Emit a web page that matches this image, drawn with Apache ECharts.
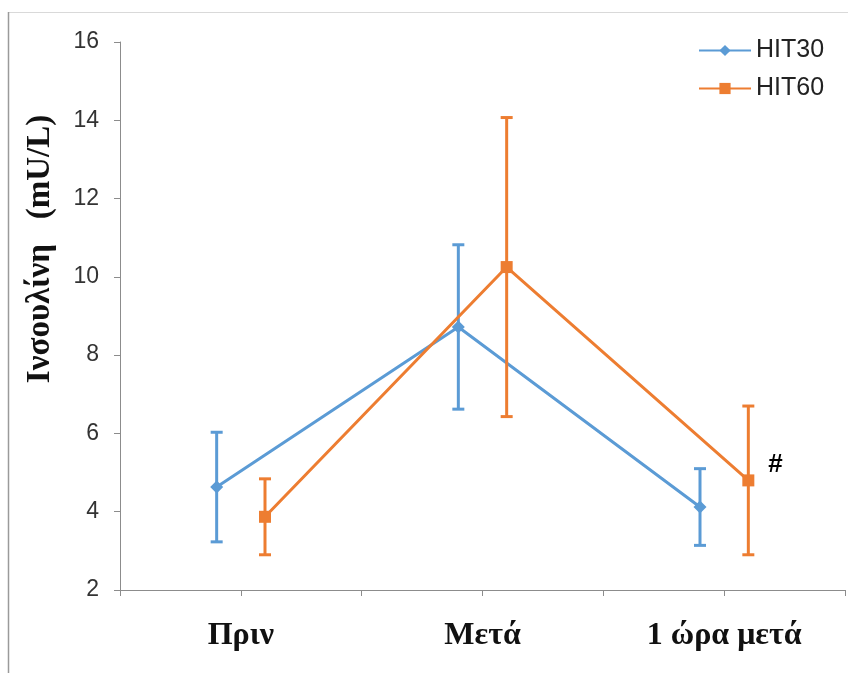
<!DOCTYPE html>
<html>
<head>
<meta charset="utf-8">
<script src="https://cdn.jsdelivr.net/npm/echarts@6/dist/echarts.min.js"></script>
<style>html,body{margin:0;padding:0;background:#fff;}#c{width:848px;height:673px;}</style>
</head>
<body>
<div id="c"></div>
<script>
const categories = ['Πριν', 'Μετά', '1 ώρα μετά'];
const hit30Mean = [4.63, 8.72, 4.12];
const hit30Err  = [1.40, 2.10, 0.98];
const hit60Mean = [3.87, 10.25, 4.80];
const hit60Err  = [0.97, 3.82, 1.90];
const hit60Notes = ['', '', '#'];
const yTicks = [2, 4, 6, 8, 10, 12, 14, 16];

const BLUE = '#5B9BD5', ORANGE = '#ED7D31';
const OFF30 = -0.1, OFF60 = 0.1;

function pts(mean, off, notes) {
  return mean.map((v, i) => {
    const d = { value: [i + 0.5 + off, v] };
    if (notes && notes[i]) {
      d.label = { show: true, formatter: notes[i], position: 'right', distance: 14, offset: [0, -16],
        color: '#000', fontSize: 26, fontWeight: 'bold', fontFamily: 'Liberation Sans' };
    }
    return d;
  });
}
function errData(mean, err, off) {
  return mean.map((v, i) => [i + 0.5 + off, v - err[i], v + err[i]]);
}
function errSeries(name, mean, err, off, color) {
  return {
    type: 'custom', name: name, z: 3,
    data: errData(mean, err, off),
    encode: { x: 0, y: [1, 2] },
    renderItem: function (params, api) {
      const x = api.value(0);
      const lo = api.coord([x, api.value(1)]);
      const hi = api.coord([x, api.value(2)]);
      const w = 6;
      const st = { stroke: color, lineWidth: 3 };
      return { type: 'group', children: [
        { type: 'line', shape: { x1: lo[0], y1: lo[1], x2: hi[0], y2: hi[1] }, style: st },
        { type: 'line', shape: { x1: lo[0] - w, y1: lo[1], x2: lo[0] + w, y2: lo[1] }, style: st },
        { type: 'line', shape: { x1: hi[0] - w, y1: hi[1], x2: hi[0] + w, y2: hi[1] }, style: st }
      ]};
    },
    tooltip: { show: false }
  };
}

const chart = echarts.init(document.getElementById('c'));
chart.setOption({
  animation: false,
  backgroundColor: '#fff',
  grid: { left: 120, right: 3, top: 42, bottom: 83, containLabel: false },
  legend: {
    orient: 'vertical', left: 693, top: 33, itemGap: 13,
    itemWidth: 52, itemHeight: 14,
    textStyle: { fontFamily: 'Liberation Sans', fontSize: 25, color: '#222' },
    data: ['HIT30', 'HIT60']
  },
  xAxis: {
    type: 'value', min: 0, max: 3, interval: 0.5,
    splitLine: { show: false },
    axisLine: { lineStyle: { color: '#8c8c8c', width: 1 } },
    axisTick: { show: true, length: 6, lineStyle: { color: '#8c8c8c' } },
    axisLabel: {
      margin: 30, fontFamily: 'Liberation Serif', fontWeight: 'bold', fontSize: 32, color: '#111',
      formatter: function (v) {
        const i = Math.round(v - 0.5);
        return Math.abs(v - 0.5 - i) < 1e-6 && categories[i] ? categories[i] : '';
      }
    }
  },
  yAxis: {
    type: 'value', min: yTicks[0], max: yTicks[yTicks.length - 1], interval: 2,
    splitLine: { show: false },
    axisLine: { show: true, lineStyle: { color: '#8c8c8c', width: 1 } },
    axisTick: { show: true, length: 6, lineStyle: { color: '#8c8c8c' } },
    axisLabel: { margin: 21, fontFamily: 'Liberation Sans', fontSize: 23, color: '#333' }
  },
  graphic: [
    { type: 'line', shape: { x1: 8, y1: 12.5, x2: 848, y2: 12.5 }, style: { stroke: '#d9d9d9', lineWidth: 1 } },
    { type: 'line', shape: { x1: 8.5, y1: 12, x2: 8.5, y2: 673 }, style: { stroke: '#9a9a9a', lineWidth: 1.5 } },
    { type: 'text', x: 40, y: 249, rotation: Math.PI / 2,
      style: { text: 'Ινσουλίνη   (mU/L)', fontFamily: 'Liberation Serif', fontWeight: 'bold', fontSize: 33,
        fill: '#111', align: 'center', verticalAlign: 'middle' } }
  ],
  series: [
    { name: 'HIT30', type: 'line', data: pts(hit30Mean, OFF30), symbol: 'diamond', symbolSize: 13,
      lineStyle: { color: BLUE, width: 3 }, itemStyle: { color: BLUE }, z: 2 },
    errSeries('HIT30', hit30Mean, hit30Err, OFF30, BLUE),
    { name: 'HIT60', type: 'line', data: pts(hit60Mean, OFF60, hit60Notes), symbol: 'rect', symbolSize: 12,
      lineStyle: { color: ORANGE, width: 3 }, itemStyle: { color: ORANGE }, z: 4 },
    errSeries('HIT60', hit60Mean, hit60Err, OFF60, ORANGE)
  ]
});
</script>
</body>
</html>
